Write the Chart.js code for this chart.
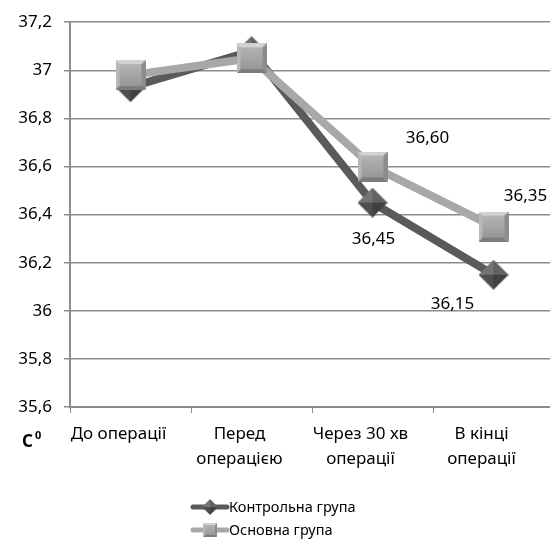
<!DOCTYPE html>
<html>
<head>
<meta charset="utf-8">
<script src="https://cdn.jsdelivr.net/npm/chart.js@4.4.0/dist/chart.umd.min.js"></script>
<style>
  html, body { margin: 0; padding: 0; background: #fff; overflow: hidden; }
  #wrap { width: 566px; height: 539px; position: relative; }
</style>
</head>
<body>
<div id="wrap"><canvas id="tempChart"></canvas></div>
<script>
const categories = [['До операції'], ['Перед', 'операцією'], ['Через 30 хв', 'операції'], ['В кінці', 'операції']];
const controlName = 'Контрольна група';
const mainName = 'Основна група';
const controlValues = [36.93, 37.08, 36.45, 36.15];
const mainValues = [36.98, 37.05, 36.60, 36.35];
const yMin = 35.6;
const yMax = 37.2;
const yStep = 0.2;

const FONT = '"Noto Sans", "Open Sans", sans-serif';
const DARK = '#5a5a5a';
const LIGHT = '#a8a8a8';

const fmt = (v) => (Math.round(v * 100) / 100).toString().replace('.', ',');

function makeSquare(size) {
    const c = document.createElement('canvas');
    c.width = size; c.height = size;
    const g = c.getContext('2d');
    const b = 4;
    const poly = (pts, col) => {
        g.beginPath();
        g.moveTo(pts[0][0], pts[0][1]);
        pts.slice(1).forEach(p => g.lineTo(p[0], p[1]));
        g.closePath();
        g.fillStyle = col;
        g.fill();
    };
    poly([[0, 0], [size, 0], [size - b, b], [b, b]], '#d2d2d2');
    poly([[0, 0], [b, b], [b, size - b], [0, size]], '#b8b8b8');
    poly([[size, 0], [size, size], [size - b, size - b], [size - b, b]], '#8c8c8c');
    poly([[0, size], [b, size - b], [size - b, size - b], [size, size]], '#7c7c7c');
    const grad = g.createLinearGradient(0, b, 0, size - b);
    grad.addColorStop(0, '#b4b4b4');
    grad.addColorStop(1, '#979797');
    g.fillStyle = grad;
    g.fillRect(b, b, size - 2 * b, size - 2 * b);
    return c;
}

function makeDiamond(size) {
    const c = document.createElement('canvas');
    c.width = size; c.height = size;
    const g = c.getContext('2d');
    const h = size / 2;
    const tri = (a, b2, col) => {
        g.beginPath();
        g.moveTo(h, h);
        g.lineTo(a[0], a[1]);
        g.lineTo(b2[0], b2[1]);
        g.closePath();
        g.fillStyle = col;
        g.fill();
    };
    tri([h, 0], [0, h], '#747474');
    tri([h, 0], [size, h], '#626262');
    tri([0, h], [h, size], '#4e4e4e');
    tri([size, h], [h, size], '#404040');
    return c;
}

const squareImg = makeSquare(30);
const diamondImg = makeDiamond(30);

// подписи значений (смещения в пикселях)
const labelPlugin = {
    id: 'pointLabels',
    afterDatasetsDraw(chart) {
        const ctx = chart.ctx;
        const marks = [
            { ds: 1, i: 2, dx: 55, dy: -28 },
            { ds: 1, i: 3, dx: 32, dy: -30 },
            { ds: 0, i: 2, dx: 1, dy: 37 },
            { ds: 0, i: 3, dx: -41, dy: 29 }
        ];
        ctx.save();
        ctx.font = '17px ' + FONT;
        ctx.fillStyle = '#000';
        ctx.textAlign = 'center';
        ctx.textBaseline = 'middle';
        marks.forEach(m => {
            const pt = chart.getDatasetMeta(m.ds).data[m.i];
            const v = chart.data.datasets[m.ds].data[m.i];
            ctx.fillText(fmt(v).padEnd(5, '0'), pt.x + m.dx, pt.y + m.dy);
        });
        ctx.restore();
    }
};

const extrasPlugin = {
    id: 'extras',
    afterDraw(chart) {
        const ctx = chart.ctx;
        ctx.save();
        // C⁰
        ctx.fillStyle = '#000';
        ctx.font = 'bold 17px ' + FONT;
        ctx.textAlign = 'left';
        ctx.textBaseline = 'middle';
        ctx.fillText('C', 22, 442);
        ctx.font = 'bold 11px ' + FONT;
        ctx.fillText('0', 35, 436);

        // легенда
        const rows = [
            { name: controlName, color: DARK, img: diamondImg, y: 507, s: 16 },
            { name: mainName, color: LIGHT, img: squareImg, y: 530, s: 14 }
        ];
        rows.forEach(r => {
            ctx.strokeStyle = r.color;
            ctx.lineWidth = 5;
            ctx.lineCap = 'round';
            ctx.beginPath();
            ctx.moveTo(193, r.y);
            ctx.lineTo(227, r.y);
            ctx.stroke();
            ctx.drawImage(r.img, 210 - r.s / 2, r.y - r.s / 2, r.s, r.s);
            ctx.fillStyle = '#000';
            ctx.font = '14.5px ' + FONT;
            ctx.textAlign = 'left';
            ctx.fillText(r.name, 229, r.y + 1);
        });
        ctx.restore();
    }
};

const ctx = document.getElementById('tempChart').getContext('2d');
new Chart(ctx, {
    type: 'line',
    data: {
        labels: categories,
        datasets: [
            {
                label: controlName,
                data: controlValues,
                borderColor: DARK,
                borderWidth: 8,
                pointStyle: diamondImg,
                order: 2
            },
            {
                label: mainName,
                data: mainValues,
                borderColor: LIGHT,
                borderWidth: 8,
                pointStyle: squareImg,
                order: 1
            }
        ]
    },
    options: {
        responsive: true,
        maintainAspectRatio: false,
        animation: false,
        layout: { padding: { top: 20, right: 4, left: 0, bottom: 0 } },
        plugins: {
            legend: { display: false },
            tooltip: { enabled: false }
        },
        elements: { line: { tension: 0 } },
        scales: {
            x: {
                offset: true,
                grid: {
                    offset: true,
                    drawOnChartArea: false,
                    color: '#8c8c8c',
                    tickLength: 6
                },
                border: { color: '#8c8c8c', width: 2 },
                ticks: {
                    color: '#000',
                    font: { family: FONT, size: 17, lineHeight: 1.5 },
                    maxRotation: 0,
                    padding: 8,
                    labelOffset: -12
                },
                afterFit(scale) { scale.height = 132; }
            },
            y: {
                min: yMin,
                max: yMax,
                grid: { color: '#8c8c8c', lineWidth: 1.5, tickLength: 6 },
                border: { color: '#8c8c8c', width: 2 },
                ticks: {
                    stepSize: yStep,
                    color: '#000',
                    font: { family: FONT, size: 17 },
                    padding: 12,
                    callback: (v) => fmt(v)
                },
                afterFit(scale) { scale.width = 70; }
            }
        }
    },
    plugins: [labelPlugin, extrasPlugin]
});
</script>
</body>
</html>
